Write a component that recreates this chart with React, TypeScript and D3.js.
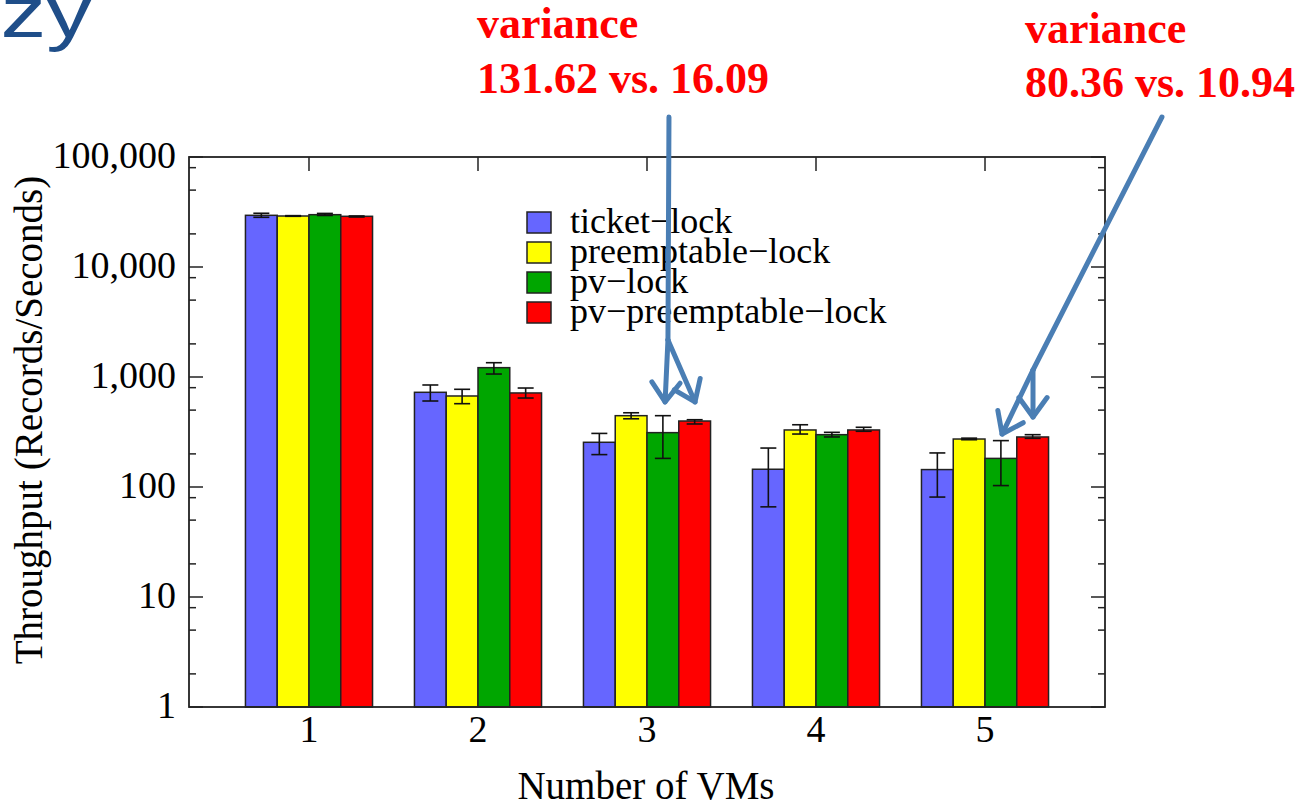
import React from "react";
import * as d3 from "d3";

// number of VMs on the x axis
const vms = [1, 2, 3, 4, 5];

const seriesNames = ["ticket\u2212lock", "preemptable\u2212lock", "pv\u2212lock", "pv\u2212preemptable\u2212lock"];
const seriesColors = ["#6666ff", "#ffff00", "#00a600", "#ff0000"];

// throughput (records/second)
const ticketLock = [29500, 726, 255, 145, 144];
const ticketLockLow = [28300, 605, 197, 66, 81];
const ticketLockHigh = [30800, 846, 307, 226, 204];

const preemptableLock = [29080, 672, 445, 330, 273];
const preemptableLockLow = [28900, 572, 417, 303, 269];
const preemptableLockHigh = [29300, 773, 473, 368, 278];

const pvLock = [29900, 1216, 312, 299, 182];
const pvLockLow = [29400, 1064, 182, 285, 103];
const pvLockHigh = [30700, 1349, 445, 314, 264];

const pvPreemptableLock = [28900, 716, 398, 330, 285];
const pvPreemptableLockLow = [28480, 644, 374, 321, 277];
const pvPreemptableLockHigh = [29100, 794, 409, 349, 299];

const yTicks = [1, 10, 100, 1000, 10000, 100000];
const yTickLabels = ["1", "10", "100", "1,000", "10,000", "100,000"];
const minorMultipliers = [2, 5, 8];

const annotations = [
  ["variance", "131.62 vs. 16.09"],
  ["variance", "80.36 vs. 10.94"],
];

// arrow paths in data space: [vm position, throughput]
const arrow1Trunk: [number, number][] = [[3.13, 231000], [3.124, 2170]];
const arrow1Tips: [number, number][] = [[3.107, 593], [3.284, 593]];
const arrow2Trunk: [number, number][] = [[6.047, 231000], [5.284, 1158]];
const arrow2Tips: [number, number][] = [[5.101, 303], [5.284, 433]];

const values = [ticketLock, preemptableLock, pvLock, pvPreemptableLock];
const lows = [ticketLockLow, preemptableLockLow, pvLockLow, pvPreemptableLockLow];
const highs = [ticketLockHigh, preemptableLockHigh, pvLockHigh, pvPreemptableLockHigh];

const W = 1306;
const H = 805;
const left = 189, right = 1105, top = 157, bottom = 707;
const serif = "'Liberation Serif', 'Times New Roman', serif";
const arrowColor = "#4a7eb4";

export default function App() {
  const x = d3.scaleLinear().domain([0.29, 5.71]).range([left, right]);
  const y = d3.scaleLog().domain([1, 100000]).range([bottom, top]);
  const bw = 0.188;

  const minor = yTicks.slice(0, -1).flatMap((t) => minorMultipliers.map((m) => t * m));

  const bars = vms.flatMap((vm, gi) =>
    values.map((s, si) => ({
      si,
      x0: x(vm + (si - 2) * bw),
      x1: x(vm + (si - 1) * bw),
      cx: x(vm + (si - 1.5) * bw),
      v: s[gi],
      lo: lows[si][gi],
      hi: highs[si][gi],
    }))
  );

  const capHalf = 8;

  const arrowHead = (from: [number, number], tip: [number, number], key: string) => {
    const fx = x(from[0]), fy = y(from[1]);
    const tx = x(tip[0]), ty = y(tip[1]);
    const ang = Math.atan2(ty - fy, tx - fx);
    const L = 24, spread = (36 * Math.PI) / 180;
    const w1 = [tx - L * Math.cos(ang - spread), ty - L * Math.sin(ang - spread)];
    const w2 = [tx - L * Math.cos(ang + spread), ty - L * Math.sin(ang + spread)];
    return (
      <g key={key}>
        <line x1={fx} y1={fy} x2={tx} y2={ty} />
        <polyline points={`${w1[0]},${w1[1]} ${tx},${ty} ${w2[0]},${w2[1]}`} fill="none" />
      </g>
    );
  };

  return (
    <div style={{ position: "absolute", left: 0, top: 0 }}>
      <svg width={W} height={H} style={{ display: "block", background: "#fff" }}>
        {/* slide title fragment */}
        <text
          transform="translate(92,37) scale(1.27,1)"
          textAnchor="end"
          fontFamily="'Liberation Sans', Arial, sans-serif"
          fontSize={72}
          fill="#1f4e89"
        >
          zy
        </text>

        {/* ticks */}
        <g stroke="#222" strokeWidth={1.5}>
          {yTicks.map((t) => (
            <g key={"mj" + t}>
              <line x1={left} x2={left + 14} y1={y(t)} y2={y(t)} />
              <line x1={right} x2={right - 14} y1={y(t)} y2={y(t)} />
            </g>
          ))}
          {minor.map((t) => (
            <g key={"mn" + t}>
              <line x1={left} x2={left + 7} y1={y(t)} y2={y(t)} />
              <line x1={right} x2={right - 7} y1={y(t)} y2={y(t)} />
            </g>
          ))}
          {vms.map((vm) => (
            <g key={"xt" + vm}>
              <line x1={x(vm)} x2={x(vm)} y1={top} y2={top + 14} />
              <line x1={x(vm)} x2={x(vm)} y1={bottom} y2={bottom - 14} />
            </g>
          ))}
        </g>

        {/* bars */}
        <g stroke="#222" strokeWidth={1.5}>
          {bars.map((b, i) => (
            <rect key={i} x={b.x0} y={y(b.v)} width={b.x1 - b.x0} height={bottom - y(b.v)} fill={seriesColors[b.si]} />
          ))}
        </g>

        {/* error bars */}
        <g stroke="#111" strokeWidth={1.6}>
          {bars.map((b, i) => (
            <g key={i}>
              <line x1={b.cx} x2={b.cx} y1={y(b.lo)} y2={y(b.hi)} />
              <line x1={b.cx - capHalf} x2={b.cx + capHalf} y1={y(b.lo)} y2={y(b.lo)} />
              <line x1={b.cx - capHalf} x2={b.cx + capHalf} y1={y(b.hi)} y2={y(b.hi)} />
            </g>
          ))}
        </g>

        {/* frame */}
        <rect x={left} y={top} width={right - left} height={bottom - top} fill="none" stroke="#222" strokeWidth={1.8} />

        {/* tick labels */}
        <g fontFamily={serif} fontSize={38} fill="#000">
          {yTicks.map((t, i) => (
            <text key={t} x={176} y={y(t)} dy="0.3em" textAnchor="end">
              {yTickLabels[i]}
            </text>
          ))}
          {vms.map((vm) => (
            <text key={vm} x={x(vm)} y={742} textAnchor="middle">
              {vm}
            </text>
          ))}
          <text x={(left + right) / 2 - 1} y={799} textAnchor="middle" fontSize={39}>
            Number of VMs
          </text>
          <text transform={`translate(42,${(top + bottom) / 2 - 12}) rotate(-90)`} textAnchor="middle" fontSize={39}>
            Throughput (Records/Seconds)
          </text>
        </g>

        {/* legend */}
        <g fontFamily={serif} fontSize={36}>
          {seriesNames.map((n, i) => (
            <g key={n} transform={`translate(527,${212 + i * 30})`}>
              <rect width={24} height={21} fill={seriesColors[i]} stroke="#222" strokeWidth={1.5} />
              <text x={43} y={21}>
                {n}
              </text>
            </g>
          ))}
        </g>

        {/* annotations */}
        <g fontFamily={serif} fontSize={44} fontWeight="bold" fill="#ff0000">
          <text x={477} y={38}>{annotations[0][0]}</text>
          <text x={477} y={93}>{annotations[0][1]}</text>
          <text x={1025} y={43}>{annotations[1][0]}</text>
          <text x={1025} y={97}>{annotations[1][1]}</text>
        </g>

        {/* arrows */}
        <g stroke={arrowColor} strokeWidth={5} strokeLinecap="round" strokeLinejoin="round" fill="none">
          <line x1={x(arrow1Trunk[0][0])} y1={y(arrow1Trunk[0][1])} x2={x(arrow1Trunk[1][0])} y2={y(arrow1Trunk[1][1])} />
          {arrow1Tips.map((t, i) => arrowHead(arrow1Trunk[1], t, "a1" + i))}
          <line x1={x(arrow2Trunk[0][0])} y1={y(arrow2Trunk[0][1])} x2={x(arrow2Trunk[1][0])} y2={y(arrow2Trunk[1][1])} />
          {arrow2Tips.map((t, i) => arrowHead(arrow2Trunk[1], t, "a2" + i))}
        </g>
      </svg>
    </div>
  );
}
